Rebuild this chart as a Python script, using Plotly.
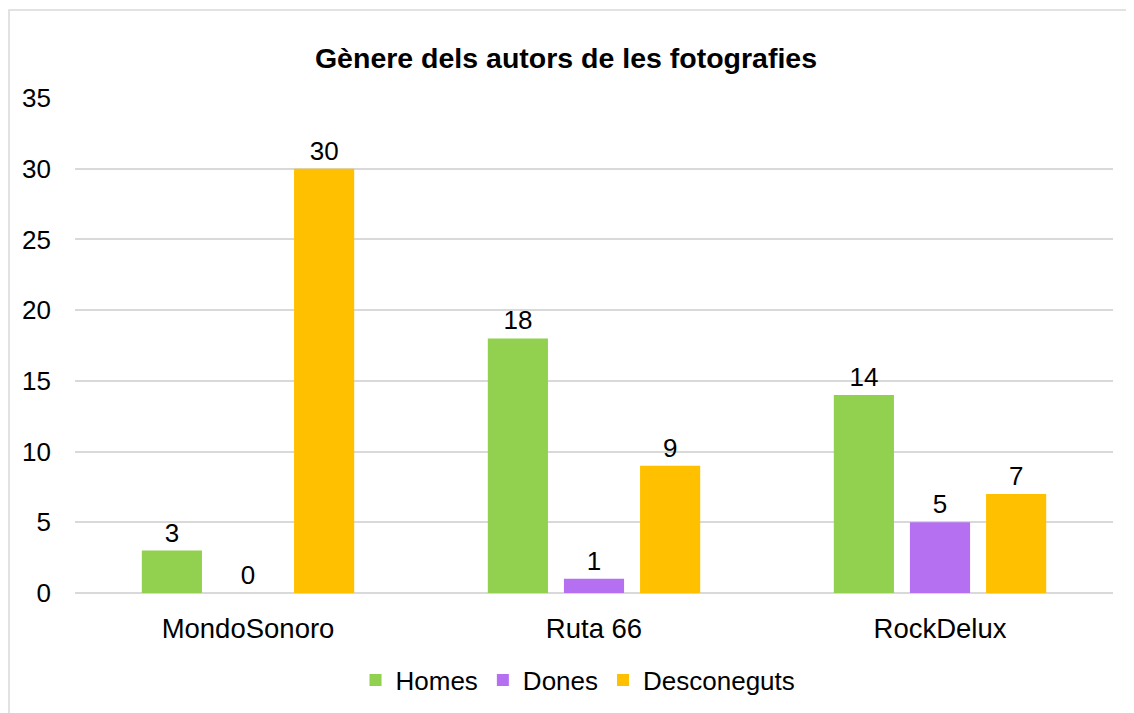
import plotly.graph_objects as go

categories = ["MondoSonoro", "Ruta 66", "RockDelux"]
homes = [3, 18, 14]
dones = [0, 1, 5]
desconeguts = [30, 9, 7]
series_names = ["Homes", "Dones", "Desconeguts"]
colors = ["#92D050", "#B570F2", "#FFC000"]

FONT = "Arial, Liberation Sans, sans-serif"

fig = go.Figure()
for name, vals, col in zip(series_names, [homes, dones, desconeguts], colors):
    fig.add_trace(go.Bar(
        x=categories, y=vals, name=name, marker_color=col,
        marker_line_width=0,
        text=[str(v) for v in vals],
        textposition="outside",
        textfont=dict(size=26, color="#000000", family=FONT),
        cliponaxis=False,
    ))

# page body offsets the figure by ~8px; compensate in margins
OFF = 8
W, H = 1134, 713
ml, mr, mt, mb = 75 - OFF, 29, 98 - OFF, 128
pw = W - ml - mr
ph = H - mt - mb

fig.update_layout(
    width=W, height=H,
    margin=dict(l=ml, r=mr, t=mt, b=mb, autoexpand=False),
    paper_bgcolor="white", plot_bgcolor="white",
    font=dict(family=FONT, size=26, color="#000000"),
    title=dict(text="<b>Gènere dels autors de les fotografies</b>",
               x=(566 - OFF) / W, xanchor="center",
               y=1 - (58 - OFF) / H, yanchor="middle",
               yref="container",
               font=dict(size=28.5, family=FONT, color="#000000")),
    barmode="group", bargap=0.34, bargroupgap=0.21,
    showlegend=True,
    legend=dict(orientation="h", x=(578 - OFF - ml) / pw, xanchor="center",
                y=(mt + ph - (680 - OFF)) / ph, yanchor="middle",
                font=dict(size=26, family=FONT), itemwidth=30,
                traceorder="normal"),
    xaxis=dict(showgrid=False, showline=False, ticks="", zeroline=False,
               tickfont=dict(size=27.5), ticklabelstandoff=16),
    yaxis=dict(range=[0, 35], dtick=5, showgrid=True, gridcolor="#D9D9D9",
               gridwidth=1.5, zeroline=True, zerolinecolor="#D9D9D9",
               zerolinewidth=1.5, showline=False, ticks="",
               tickfont=dict(size=26), ticklabelstandoff=23),
    shapes=[dict(type="rect", xref="paper", yref="paper",
                 x0=(1 - ml) / pw, x1=1.2, y0=-0.5,
                 y1=1 + (mt - (10 - OFF)) / ph,
                 line=dict(color="#D9D9D9", width=1.5), fillcolor="rgba(0,0,0,0)",
                 layer="below")],
)

fig.write_html("out.html")
